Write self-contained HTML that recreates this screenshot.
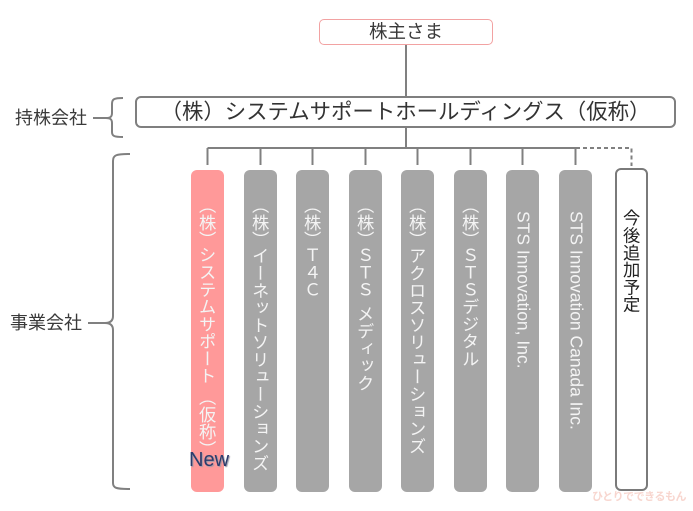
<!DOCTYPE html>
<html lang="ja">
<head>
<meta charset="utf-8">
<style>
  html,body{margin:0;padding:0;}
  body{width:693px;height:511px;position:relative;overflow:hidden;background:#fff;
       font-family:"Liberation Sans","Noto Sans CJK JP",sans-serif;color:#222;}
  .abs{position:absolute;}
  .top{left:319px;top:19px;width:174px;height:26px;box-sizing:border-box;border:1px solid #f2a2a2;
       border-radius:5px;text-align:center;font-size:18.5px;line-height:24px;color:#3a3a3a;}
  .hold{left:135px;top:96px;width:541px;height:32px;box-sizing:border-box;border:2px solid #7f7f7f;
       border-radius:6px;text-align:center;font-size:21.4px;line-height:28px;color:#333;white-space:nowrap;}
  .lab{font-size:18px;line-height:20px;color:#3a3a3a;white-space:nowrap;}
  .box{top:170px;width:33px;height:322px;border-radius:6px;background:#a6a6a6;}
  .pink{background:#ff9999;}
  .wbox{left:615px;top:168px;width:33px;height:323px;box-sizing:border-box;border:2px solid #7a7a7a;border-radius:6px;background:#fff;}
  .vt{position:absolute;writing-mode:vertical-rl;text-orientation:upright;white-space:nowrap;
      font-family:"Noto Sans CJK JP",sans-serif;font-size:17.3px;line-height:17.3px;width:17.3px;color:#f4f4f4;}
  .vh{font-feature-settings:"vhal" 1;}
  .vs{position:absolute;writing-mode:vertical-rl;text-orientation:mixed;white-space:nowrap;
      font-family:"Liberation Sans",sans-serif;font-size:17.5px;line-height:17.5px;width:17.5px;color:#f4f4f4;}
  .new{left:189px;top:450px;font-size:20px;line-height:20px;color:#2c3c6c;text-shadow:1px 1px 1px #9a9aa8;}
  .wm{left:592px;top:488px;font-size:11px;font-weight:bold;color:#f6c9bf;opacity:.75;
      font-family:"Noto Sans CJK JP",sans-serif;white-space:nowrap;letter-spacing:-0.5px;}
</style>
</head>
<body>
<svg class="abs" style="left:0;top:0" width="693" height="511" viewBox="0 0 693 511">
  <g stroke="#808080" stroke-width="2" fill="none">
    <path d="M406,45 V96"/>
    <path d="M406,128 V148"/>
    <path d="M207.5,148 H576"/>
    <path d="M207.5,148 V165 M260.5,148 V165 M312.5,148 V165 M365.5,148 V165 M417.5,148 V165 M470.5,148 V165 M522.5,148 V165 M575.5,148 V165"/>
    <path d="M576,148 H631.5 V166" stroke-dasharray="4 3"/>
    <path d="M123,98 C114,98 112,99 112,104 L112,113 C112,117 110,118 106,118 C110,118 112,119 112,123 L112,132 C112,136 114,137 123,137"/>
    <path d="M93,118 H106"/>
    <path d="M130,154 C116,154 113,155 113,161 L113,316 C113,321 110,323 105,323 C110,323 113,325 113,330 L113,483 C113,488 116,489 130,489"/>
    <path d="M88,323 H105"/>
  </g>
</svg>

<div class="abs top">株主さま</div>
<div class="abs hold">（株）システムサポートホールディングス（仮称）</div>

<div class="abs lab" style="left:15px;top:108px;">持株会社</div>
<div class="abs lab" style="left:10px;top:313px;">事業会社</div>

<div class="abs box pink" style="left:191px;"></div>
<div class="abs box" style="left:244px;"></div>
<div class="abs box" style="left:296px;"></div>
<div class="abs box" style="left:349px;"></div>
<div class="abs box" style="left:401px;"></div>
<div class="abs box" style="left:454px;"></div>
<div class="abs box" style="left:506px;"></div>
<div class="abs box" style="left:559px;"></div>
<div class="abs wbox"></div>

<!-- box 1 -->
<div class="vt vh" style="left:198.9px;top:205px;">（株）</div>
<div class="vt" style="left:198.9px;top:246px;">システムサポート</div>
<div class="vt vh" style="left:198.9px;top:397px;">（仮称）</div>
<!-- box 2 -->
<div class="vt vh" style="left:251.9px;top:205px;">（株）</div>
<div class="vt" style="left:251.9px;top:247px;">イーネットソリューションズ</div>
<!-- box 3 -->
<div class="vt vh" style="left:303.9px;top:205px;">（株）</div>
<div class="vt" style="left:303.9px;top:246px;">Ｔ４Ｃ</div>
<!-- box 4 -->
<div class="vt vh" style="left:356.9px;top:205px;">（株）</div>
<div class="vt" style="left:356.9px;top:246px;">ＳＴＳ</div>
<div class="vt" style="left:356.9px;top:305px;">メディック</div>
<!-- box 5 -->
<div class="vt vh" style="left:408.9px;top:205px;">（株）</div>
<div class="vt" style="left:408.9px;top:247px;">アクロスソリューションズ</div>
<!-- box 6 -->
<div class="vt vh" style="left:461.9px;top:205px;">（株）</div>
<div class="vt" style="left:461.9px;top:246px;">ＳＴＳデジタル</div>
<!-- box 7 -->
<div class="vs" style="left:513.8px;top:211px;">STS Innovation, Inc.</div>
<!-- box 8 -->
<div class="vs" style="left:566.8px;top:211px;">STS Innovation Canada Inc.</div>
<!-- box 9 -->
<div class="vt" style="left:622.9px;top:209px;color:#222;line-height:17.5px;">今後追加予定</div>

<div class="abs new">New</div>
<div class="abs wm">ひとりでできるもん</div>
</body>
</html>
